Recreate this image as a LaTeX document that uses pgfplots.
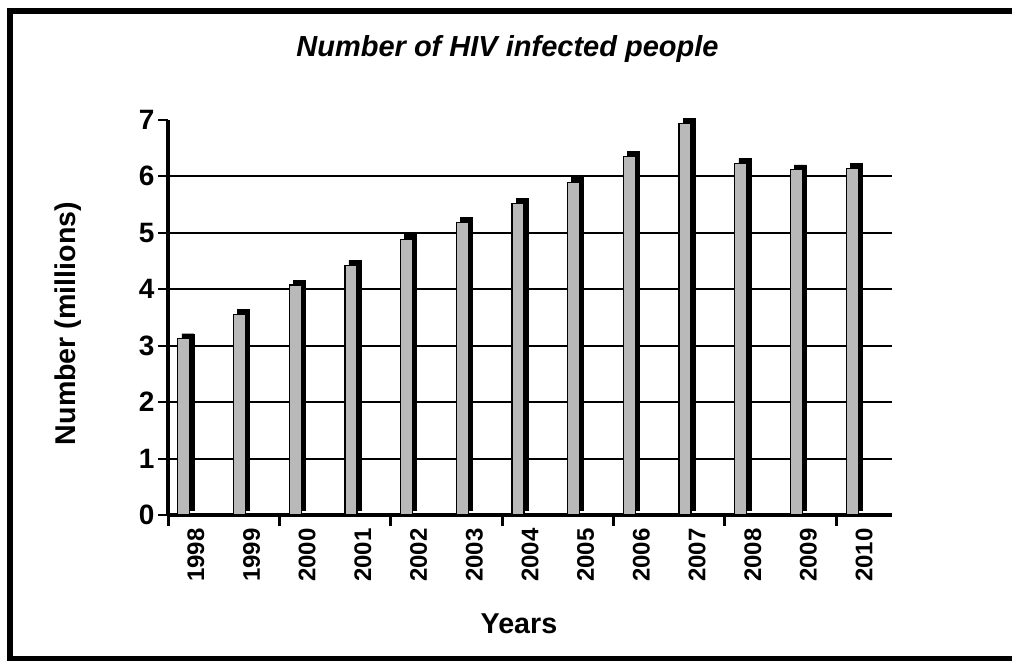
\documentclass[border=0pt]{standalone}
\usepackage{pgfplots}
\pgfplotsset{compat=1.18}
\usepackage{pgfplotstable}
\usepackage{fontspec}
\setmainfont{Liberation Sans}
\definecolor{barfill}{RGB}{185,185,185}
\pgfplotstableread{
x v
0 3.12
1 3.55
2 4.07
3 4.42
4 4.88
5 5.18
6 5.51
7 5.89
8 6.35
9 6.93
10 6.22
11 6.11
12 6.13
}\data
\begin{document}
\begin{tikzpicture}
\useasboundingbox (0,0) rectangle (1012pt,-661pt);
\draw[line width=6pt] (1030pt,-11pt) -- (9.5pt,-11pt) -- (9.5pt,-658.5pt) -- (1030pt,-658.5pt);
\node[anchor=base, font=\bfseries\itshape\fontsize{29}{34}\selectfont] at (507.5pt,-57pt) {Number of HIV infected people};
\node[rotate=90, font=\bfseries\fontsize{28.6}{34}\selectfont] at (68pt,-323.5pt) {Number (millions)};
\node[anchor=base, font=\bfseries\fontsize{28.7}{34}\selectfont] at (519pt,-633pt) {Years};
\begin{axis}[
  at={(168pt,-515pt)}, anchor=south west,
  scale only axis, width=724pt, height=395.5pt,
  xmin=-0.5, xmax=12.5, ymin=0, ymax=7,
  axis lines*=left,
  axis line style={line width=4pt, -},
  clip=false,
  xtick={0,1,2,3,4,5,6,7,8,9,10,11,12},
  xticklabels={1998,1999,2000,2001,2002,2003,2004,2005,2006,2007,2008,2009,2010},
  x tick label style={rotate=90, anchor=east, font=\bfseries\fontsize{24}{28}\selectfont},
  xtick style={draw=none},
  extra x ticks={-0.5,1.5,3.5,5.5,7.5,9.5,11.5},
  extra x tick labels={},
  extra x tick style={xtick style={draw=black, line width=3pt}, major tick length=11pt},
  ytick={0,1,2,3,4,5,6,7},
  y tick label style={font=\bfseries\fontsize{28}{30}\selectfont},
  /pgf/number format/assume math mode=true,
  tick align=outside, major tick length=10pt,
  ytick style={line width=2pt, black},
  extra y ticks={1,2,3,4,5,6}, extra y tick labels={},
  extra y tick style={grid=major},
  grid style={line width=2pt, black},
]
\addplot[ybar, bar width=12pt, bar shift=-8pt, fill=black, draw=black, yshift=5pt] table[x=x, y=v] \data;
\addplot[ybar, bar width=12pt, bar shift=-12pt, fill=barfill, draw=black, line width=1.2pt] table[x=x, y=v] \data;
\end{axis}
\end{tikzpicture}
\end{document}
